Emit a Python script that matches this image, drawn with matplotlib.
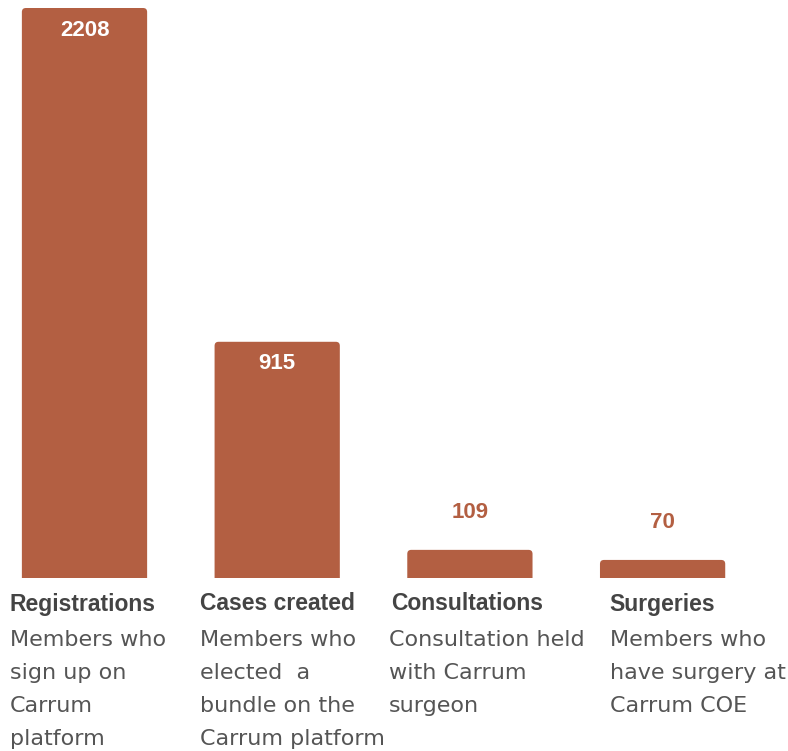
import matplotlib.pyplot as plt
from matplotlib.patches import FancyBboxPatch

categories = ['Registrations', 'Cases created', 'Consultations', 'Surgeries']
values = [2208, 915, 109, 70]
descriptions = [
    ['Members who', 'sign up on', 'Carrum', 'platform'],
    ['Members who', 'elected  a', 'bundle on the', 'Carrum platform'],
    ['Consultation held', 'with Carrum', 'surgeon'],
    ['Members who', 'have surgery at', 'Carrum COE'],
]

bar_color = '#b35f42'
text_color = '#555555'
dpi = 100
step = 192.7  # pixels between bar centres

fig = plt.figure(figsize=(7.88, 7.51), dpi=dpi)
ax = fig.add_axes([0, 1 - 578 / 751, 1, 578 / 751])
x = list(range(len(categories)))
bars = ax.bar(x, values, width=0.65, color=bar_color)
ax.set_xlim(-84.5 / step, (788 - 84.5) / step)
ax.set_ylim(0, 2208 * 578 / 570)
ax.axis('off')

# rounded top corners: swap the plain rectangles for fancy boxes
ry = 4 * (2208 * 578 / 570) / 578
rx = 4 / step
for b in bars:
    b.set_visible(False)
    patch = FancyBboxPatch((b.get_x(), -50), b.get_width(), b.get_height() + 50,
                           boxstyle=f'round,pad=0,rounding_size={rx}',
                           mutation_aspect=ry / rx, color=bar_color, lw=0)
    ax.add_patch(patch)

# value labels: inside for tall bars, above for short ones
for xi, v in zip(x, values):
    if v > 500:
        ax.annotate(str(v), (xi, v), xytext=(0, -22), textcoords='offset pixels',
                    ha='center', va='center', color='white', fontsize=16,
                    fontweight='bold', family='Liberation Sans')
    else:
        ax.annotate(str(v), (xi, v), xytext=(0, 37), textcoords='offset pixels',
                    ha='center', va='center', color=bar_color, fontsize=16,
                    fontweight='bold', family='Liberation Sans')

# titles and descriptions under each bar
title_dx = [-12, -14.6, -16, 9]
desc_dx = [-12, -14.6, -18, 10]
for b, cat, desc, tdx, ddx in zip(bars, categories, descriptions, title_dx, desc_dx):
    ax.annotate(cat, (b.get_x(), 0), xytext=(tdx, -26), textcoords='offset pixels',
                ha='left', va='center', color='#444444', fontsize=16.5,
                fontweight='bold', family='Liberation Sans')
    for i, line in enumerate(desc):
        ax.annotate(line, (b.get_x(), 0), xytext=(ddx, -62 - 33 * i),
                    textcoords='offset pixels', ha='left', va='center',
                    color=text_color, fontsize=16, family='DejaVu Sans')

fig.savefig('out.png', dpi=dpi)
